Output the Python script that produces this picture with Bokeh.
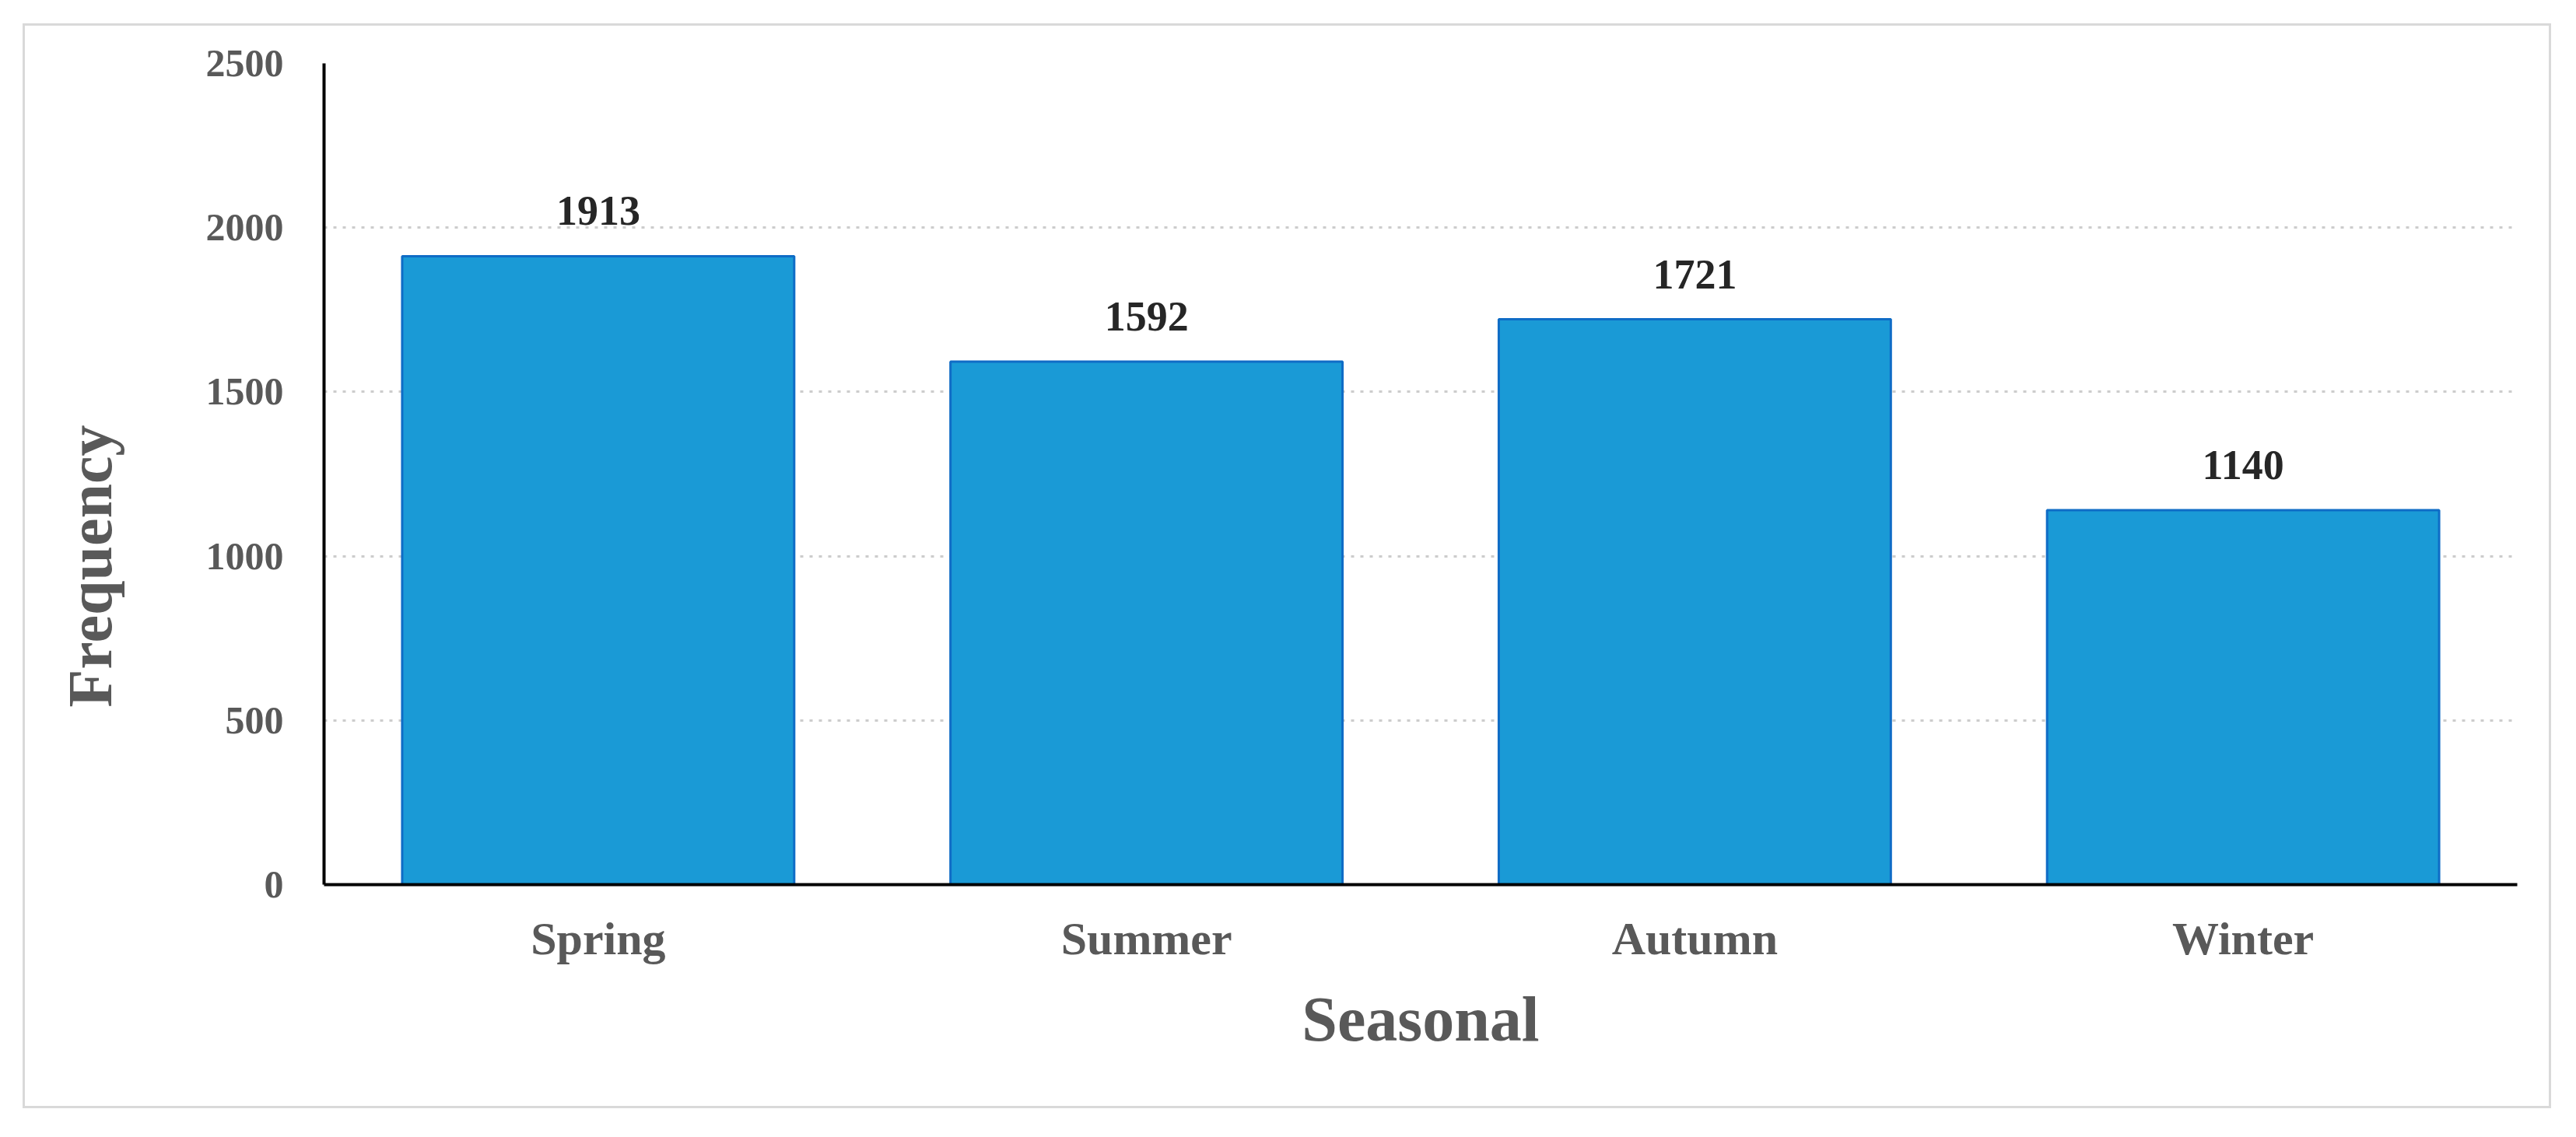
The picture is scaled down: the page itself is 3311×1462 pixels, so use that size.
from bokeh.plotting import figure
from bokeh.models import ColumnDataSource, FactorRange, Range1d, FixedTicker, Title
from bokeh.embed import file_html
from bokeh.resources import INLINE

seasons = ["Spring", "Summer", "Autumn", "Winter"]
frequency = [1913, 1592, 1721, 1140]
y_ticks = [0, 500, 1000, 1500, 2000, 2500]
x_title = "Seasonal"
y_title = "Frequency"

FONT = "Liberation Serif"
GRAY = "#595959"

src = ColumnDataSource(dict(season=seasons, freq=frequency,
                            label=[str(v) for v in frequency]))

p = figure(x_range=FactorRange(factors=seasons, range_padding=0),
           y_range=Range1d(0, 2500),
           width=3250, height=1395,
           output_backend="svg", toolbar_location=None,
           min_border_left=384, min_border_right=47,
           min_border_top=48, min_border_bottom=291)
p.margin = (30, 0, 0, 29)
p.styles = {"border": "3px solid #d9d9d9"}
p.outline_line_color = None
p.background_fill_color = "white"
p.border_fill_color = "white"

p.vbar(x="season", top="freq", width=0.715, source=src,
       fill_color="#1a9ad6", line_color="#0f6cc6", line_width=3)

p.text(x="season", y="freq", text="label", source=src,
       text_align="center", text_baseline="alphabetic", y_offset=-58,
       text_font={"value": FONT}, text_font_style="bold",
       text_font_size="54px", text_color="#262626")

# grid
p.xgrid.grid_line_color = None
p.ygrid.grid_line_color = "#cccccc"
p.ygrid.grid_line_width = 3
p.ygrid.grid_line_dash = "4 8"

# axes
for ax in (p.xaxis[0], p.yaxis[0]):
    ax.axis_line_color = "black"
    ax.axis_line_width = 4
    ax.major_tick_line_color = None
    ax.minor_tick_line_color = None
    ax.major_tick_in = 0
    ax.major_tick_out = 0
    ax.minor_tick_in = 0
    ax.minor_tick_out = 0
    ax.major_label_text_font = FONT
    ax.major_label_text_font_style = "bold"
    ax.major_label_text_color = GRAY

p.yaxis.ticker = FixedTicker(ticks=y_ticks)
p.yaxis.major_label_text_font_size = "50px"
p.yaxis.major_label_standoff = 52

p.xaxis.major_label_text_font_size = "60px"
p.xaxis.major_label_standoff = 36
p.xaxis.axis_label = x_title
p.xaxis.axis_label_text_font = FONT
p.xaxis.axis_label_text_font_style = "bold"
p.xaxis.axis_label_text_font_size = "82px"
p.xaxis.axis_label_text_color = GRAY
p.xaxis.axis_label_standoff = 22

# empty spacer between the tick labels and the y title
spacer = Title(text=" ", text_font_size="10px", standoff=53)
p.add_layout(spacer, "left")

ytitle = Title(text=y_title, align="left", offset=228,
               text_font=FONT, text_font_style="bold",
               text_font_size="80px", text_color=GRAY, standoff=72)
p.add_layout(ytitle, "left")

open("out.html", "w").write(file_html(p, INLINE))
